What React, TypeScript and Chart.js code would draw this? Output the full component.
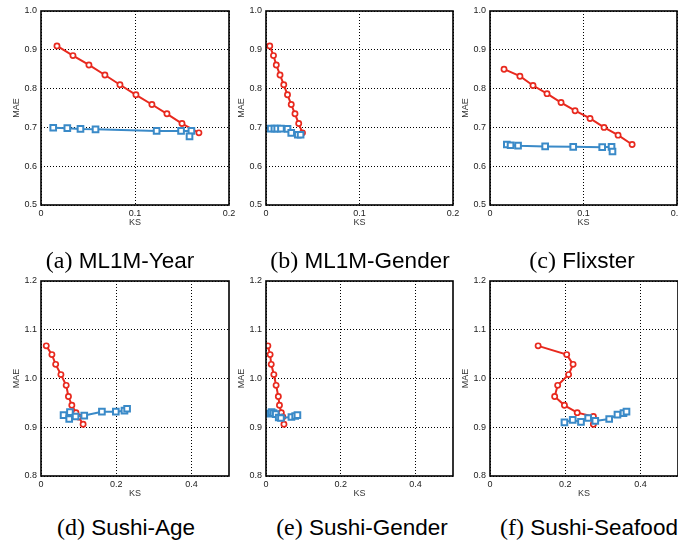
import React, { useEffect, useRef } from "react";
import { Chart, registerables } from "chart.js";
Chart.register(...registerables);

// ---------- data ----------
const TOP_Y_TICKS = [0.5, 0.6, 0.7, 0.8, 0.9, 1.0];
const TOP_X_TICKS = [0, 0.1, 0.2];
const BOT_Y_TICKS = [0.8, 0.9, 1.0, 1.1, 1.2];
const BOT_X_TICKS = [0, 0.2, 0.4];

// (a) ML1M-Year
const A_RED_KS = [0.017, 0.034, 0.051, 0.068, 0.084, 0.101, 0.118, 0.134, 0.150, 0.168];
const A_RED_MAE = [0.910, 0.885, 0.861, 0.835, 0.810, 0.784, 0.759, 0.735, 0.710, 0.686];
const A_BLUE_KS = [0.013, 0.028, 0.042, 0.058, 0.123, 0.149, 0.160, 0.158];
const A_BLUE_MAE = [0.699, 0.698, 0.696, 0.695, 0.691, 0.691, 0.691, 0.677];
// (b) ML1M-Gender
const B_RED_KS = [0.004, 0.008, 0.011, 0.015, 0.019, 0.023, 0.027, 0.031, 0.035, 0.039];
const B_RED_MAE = [0.910, 0.885, 0.861, 0.835, 0.810, 0.784, 0.759, 0.735, 0.710, 0.686];
const B_BLUE_KS = [0.005, 0.009, 0.012, 0.016, 0.023, 0.027, 0.034, 0.037];
const B_BLUE_MAE = [0.697, 0.697, 0.697, 0.697, 0.696, 0.686, 0.681, 0.681];
// (c) Flixster
const C_RED_KS = [0.015, 0.032, 0.046, 0.061, 0.076, 0.091, 0.107, 0.122, 0.137, 0.152];
const C_RED_MAE = [0.850, 0.832, 0.808, 0.787, 0.764, 0.743, 0.723, 0.700, 0.680, 0.656];
const C_BLUE_KS = [0.018, 0.022, 0.030, 0.059, 0.089, 0.120, 0.130, 0.131];
const C_BLUE_MAE = [0.656, 0.654, 0.653, 0.651, 0.650, 0.649, 0.650, 0.638];
// (d) Sushi-Age
const D_RED_KS = [0.014, 0.029, 0.039, 0.053, 0.067, 0.073, 0.082, 0.093, 0.100, 0.112];
const D_RED_MAE = [1.067, 1.049, 1.029, 1.008, 0.986, 0.963, 0.945, 0.930, 0.921, 0.906];
const D_BLUE_KS = [0.060, 0.075, 0.077, 0.092, 0.115, 0.162, 0.199, 0.222, 0.229];
const D_BLUE_MAE = [0.925, 0.917, 0.931, 0.922, 0.924, 0.932, 0.932, 0.934, 0.938];
// (e) Sushi-Gender
const E_RED_KS = [0.005, 0.011, 0.014, 0.021, 0.027, 0.033, 0.036, 0.041, 0.045, 0.048];
const E_RED_MAE = [1.067, 1.049, 1.029, 1.008, 0.986, 0.963, 0.945, 0.930, 0.921, 0.906];
const E_BLUE_KS = [0.010, 0.015, 0.020, 0.026, 0.034, 0.040, 0.068, 0.078, 0.084];
const E_BLUE_MAE = [0.928, 0.931, 0.929, 0.927, 0.920, 0.919, 0.921, 0.923, 0.925];
// (f) Sushi-Seafood
const F_RED_KS = [0.128, 0.204, 0.221, 0.209, 0.180, 0.172, 0.198, 0.232, 0.275, 0.275];
const F_RED_MAE = [1.067, 1.049, 1.029, 1.008, 0.986, 0.963, 0.945, 0.930, 0.922, 0.906];
const F_BLUE_KS = [0.198, 0.220, 0.242, 0.261, 0.280, 0.317, 0.339, 0.355, 0.363];
const F_BLUE_MAE = [0.910, 0.915, 0.911, 0.919, 0.913, 0.917, 0.926, 0.929, 0.932];

const CAPTION_LABELS = ["(a)", "(b)", "(c)", "(d)", "(e)", "(f)"];
const CAPTION_NAMES = ["ML1M-Year", "ML1M-Gender", "Flixster", "Sushi-Age", "Sushi-Gender", "Sushi-Seafood"];

// ---------- styles / layout ----------
const RED = "#e8291e";
const BLUE = "#3a8ac8";

const pts = (xs: number[], ys: number[]) => xs.map((x, i) => ({ x, y: ys[i] }));

type PanelDef = {
  L: number; T: number; R: number; B: number;
  xTicks: number[]; yTicks: number[]; xMax: number;
  red: { x: number; y: number }[]; blue: { x: number; y: number }[];
};

const TOP = { T: 11, B: 205 };
const BOT = { T: 281, B: 476 };
const PANELS: PanelDef[] = [
  { L: 41, R: 229, ...TOP, xTicks: TOP_X_TICKS, yTicks: TOP_Y_TICKS, xMax: 0.2, red: pts(A_RED_KS, A_RED_MAE), blue: pts(A_BLUE_KS, A_BLUE_MAE) },
  { L: 266, R: 453, ...TOP, xTicks: TOP_X_TICKS, yTicks: TOP_Y_TICKS, xMax: 0.2, red: pts(B_RED_KS, B_RED_MAE), blue: pts(B_BLUE_KS, B_BLUE_MAE) },
  { L: 490, R: 677, ...TOP, xTicks: TOP_X_TICKS, yTicks: TOP_Y_TICKS, xMax: 0.2, red: pts(C_RED_KS, C_RED_MAE), blue: pts(C_BLUE_KS, C_BLUE_MAE) },
  { L: 41, R: 229, ...BOT, xTicks: BOT_X_TICKS, yTicks: BOT_Y_TICKS, xMax: 0.5, red: pts(D_RED_KS, D_RED_MAE), blue: pts(D_BLUE_KS, D_BLUE_MAE) },
  { L: 266, R: 453, ...BOT, xTicks: BOT_X_TICKS, yTicks: BOT_Y_TICKS, xMax: 0.5, red: pts(E_RED_KS, E_RED_MAE), blue: pts(E_BLUE_KS, E_BLUE_MAE) },
  { L: 490, R: 678, ...BOT, xTicks: BOT_X_TICKS, yTicks: BOT_Y_TICKS, xMax: 0.5, red: pts(F_RED_KS, F_RED_MAE), blue: pts(F_BLUE_KS, F_BLUE_MAE) },
];

const CAPTIONS = [
  { cx: 120, cy: 260 }, { cx: 360, cy: 260 }, { cx: 582, cy: 260 },
  { cx: 126, cy: 527 }, { cx: 362, cy: 527 }, { cx: 589, cy: 527 },
];

const YW = 40; // y-axis box width
const XH = 30; // x-axis box height
const PT = 10; // top padding
const PR = 14; // right padding

const frame = {
  id: "frame",
  afterDatasetsDraw(chart: any) {
    const { ctx, chartArea: a } = chart;
    ctx.save();
    ctx.strokeStyle = "#000";
    ctx.lineWidth = 1.6;
    ctx.strokeRect(a.left, a.top, a.right - a.left, a.bottom - a.top);
    ctx.restore();
  },
};

function Panel({ p }: { p: PanelDef }) {
  const ref = useRef<HTMLCanvasElement>(null);
  const w = p.R - p.L + YW + PR;
  const h = p.B - p.T + PT + XH;
  useEffect(() => {
    const tickFont = { family: "'Liberation Sans', Arial, sans-serif", size: 9 };
    const chart = new Chart(ref.current!, {
      type: "scatter",
      data: {
        datasets: [
          {
            data: p.blue, showLine: true, borderColor: BLUE, backgroundColor: "#fff",
            borderWidth: 2, pointStyle: "rect", pointRadius: 4, pointBorderWidth: 2,
            pointBorderColor: BLUE, pointBackgroundColor: "#fff",
          },
          {
            data: p.red, showLine: true, borderColor: RED, backgroundColor: "#fff",
            borderWidth: 2, pointStyle: "circle", pointRadius: 2.6, pointBorderWidth: 1.7,
            pointBorderColor: RED, pointBackgroundColor: "#fff",
          },
        ],
      },
      options: {
        responsive: false,
        animation: false,
        events: [],
        layout: { padding: { left: 0, top: PT, right: PR, bottom: 0 } },
        plugins: { legend: { display: false }, tooltip: { enabled: false } },
        scales: {
          x: {
            type: "linear", min: 0, max: p.xMax,
            afterBuildTicks: (s: any) => { s.ticks = p.xTicks.map((v) => ({ value: v })); },
            afterFit: (s: any) => { s.height = XH; },
            ticks: { font: tickFont, color: "#222", padding: 3, maxRotation: 0, autoSkip: false,
              callback: (v: any) => (v === 0 ? "0" : String(Math.round(v * 10) / 10)) },
            grid: { color: "#000", lineWidth: 1, drawTicks: false },
            border: { display: false, dash: [1, 2] },
            title: { display: true, text: "KS", font: tickFont, color: "#333", padding: { top: 0, bottom: 7 } },
          },
          y: {
            type: "linear", min: p.yTicks[0], max: p.yTicks[p.yTicks.length - 1],
            afterBuildTicks: (s: any) => { s.ticks = p.yTicks.map((v) => ({ value: v })); },
            afterFit: (s: any) => { s.width = YW; },
            ticks: { font: tickFont, color: "#222", padding: 4, autoSkip: false,
              callback: (v: any) => Number(v).toFixed(1) },
            grid: { color: "#000", lineWidth: 1, drawTicks: false },
            border: { display: false, dash: [1, 2] },
            title: { display: true, text: "MAE", font: tickFont, color: "#333", padding: { top: 10.6, bottom: 0 } },
          },
        },
      },
      plugins: [frame],
    } as any);
    return () => chart.destroy();
  }, []);
  return (
    <canvas
      ref={ref}
      width={w}
      height={h}
      style={{ position: "absolute", left: p.L - YW, top: p.T - PT, width: w, height: h }}
    />
  );
}

export default function App() {
  return (
    <div style={{ position: "fixed", left: 0, top: 0, width: 678, height: 543, background: "#fff", overflow: "hidden" }}>
      {PANELS.map((p, i) => <Panel key={i} p={p} />)}
      {CAPTIONS.map((c, i) => (
        <div
          key={"c" + i}
          style={{
            position: "absolute", left: c.cx - 150, top: c.cy - 14, width: 300, height: 28,
            textAlign: "center", lineHeight: "28px", whiteSpace: "nowrap", color: "#000",
          }}
        >
          <span style={{ fontFamily: "'Liberation Serif', serif", fontSize: 24 }}>{CAPTION_LABELS[i]}</span>
          <span style={{ fontFamily: "'Liberation Sans', Arial, sans-serif", fontSize: 22.5 }}> {CAPTION_NAMES[i]}</span>
        </div>
      ))}
    </div>
  );
}
